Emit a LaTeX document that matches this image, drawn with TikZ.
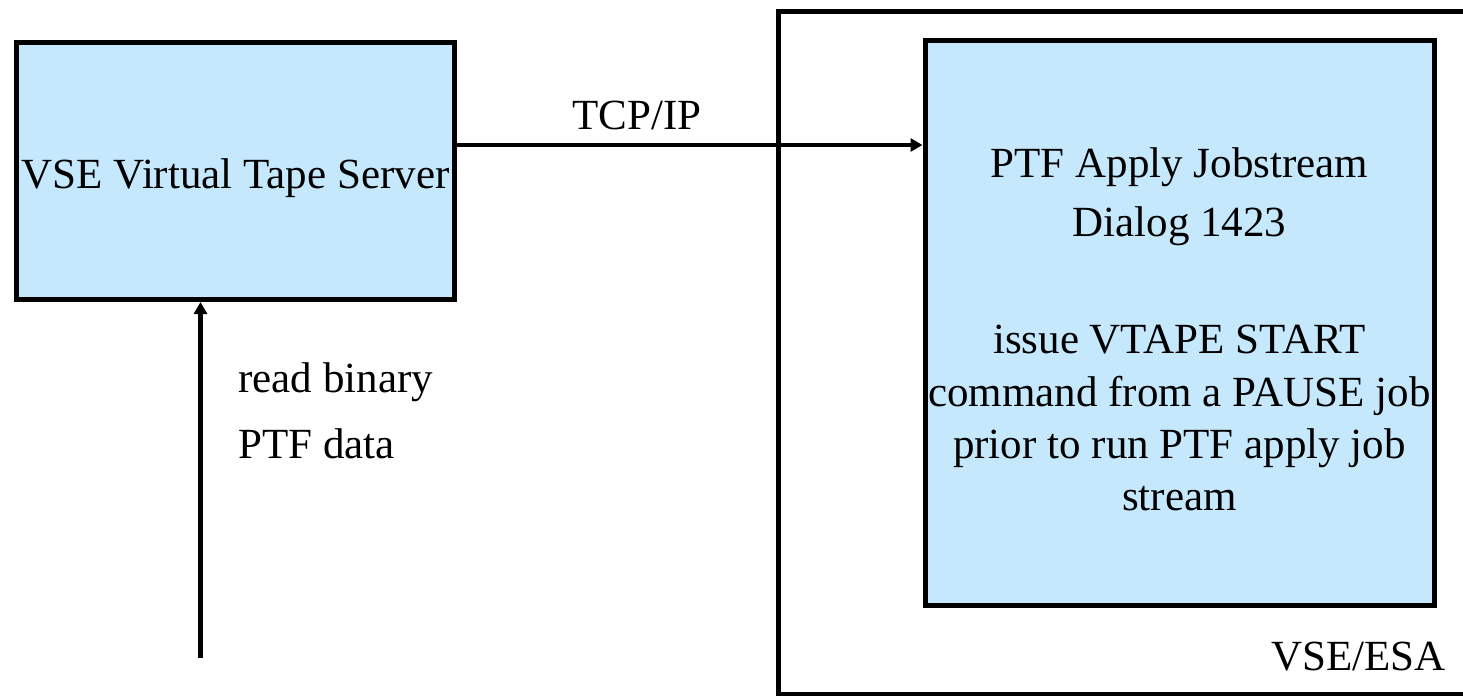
\documentclass[tikz,border=0pt]{standalone}
\usepackage{fontspec}
\setmainfont{Liberation Serif}
\usetikzlibrary{arrows.meta}
\definecolor{boxfill}{RGB}{197,232,253}
\begin{document}
\begin{tikzpicture}[x=0.5pt,y=-0.5pt,
  box/.style={draw=black, line width=2.5pt, fill=boxfill, inner sep=0pt, rectangle},
  frame/.style={draw=black, line width=2.5pt, inner sep=0pt, rectangle},
  lbl/.style={font=\fontsize{21.5pt}{26pt}\selectfont, inner sep=0pt, anchor=base},
  arr/.style={line width=2.4pt, -{Triangle[length=6pt,width=6.5pt]}}]
\useasboundingbox (0,0) rectangle (1463,696);
\clip (0,0) rectangle (1463,696);
\node[frame, minimum width=356pt, minimum height=341.5pt] (esa) at (1134,352.5) {};
\node[box, minimum width=219pt, minimum height=128.5pt] (vts) at (235.5,171) {};
\node[box, minimum width=254.5pt, minimum height=282.25pt] (ptf) at (1179.5,322.75) {};
\node[lbl] (vtstext) at (235.5,188) {VSE Virtual Tape Server};
\node[lbl] (tcp) at (637,129) {TCP/IP};
\node[lbl] (p1) at (1179.5,177) {PTF Apply Jobstream};
\node[lbl] (p2) at (1179.5,236) {Dialog 1423};
\node[lbl] (p3) at (1179.5,353) {issue VTAPE START};
\node[lbl] (p4) at (1179.5,406) {command from a PAUSE job};
\node[lbl] (p5) at (1179.5,458) {prior to run PTF apply job};
\node[lbl] (p6) at (1179.5,510) {stream};
\node[lbl, anchor=base west] (rb1) at (238,392) {read binary};
\node[lbl, anchor=base west] (rb2) at (238,458) {PTF data};
\node[lbl, anchor=base east] (esalabel) at (1446,670) {VSE/ESA};
\coordinate (src) at (200.5,658);
\draw[arr] (src) -- (src |- vts.south);
\draw[arr] (vts.east |- 0,145) -- (ptf.west |- 0,145);
\end{tikzpicture}
\end{document}
